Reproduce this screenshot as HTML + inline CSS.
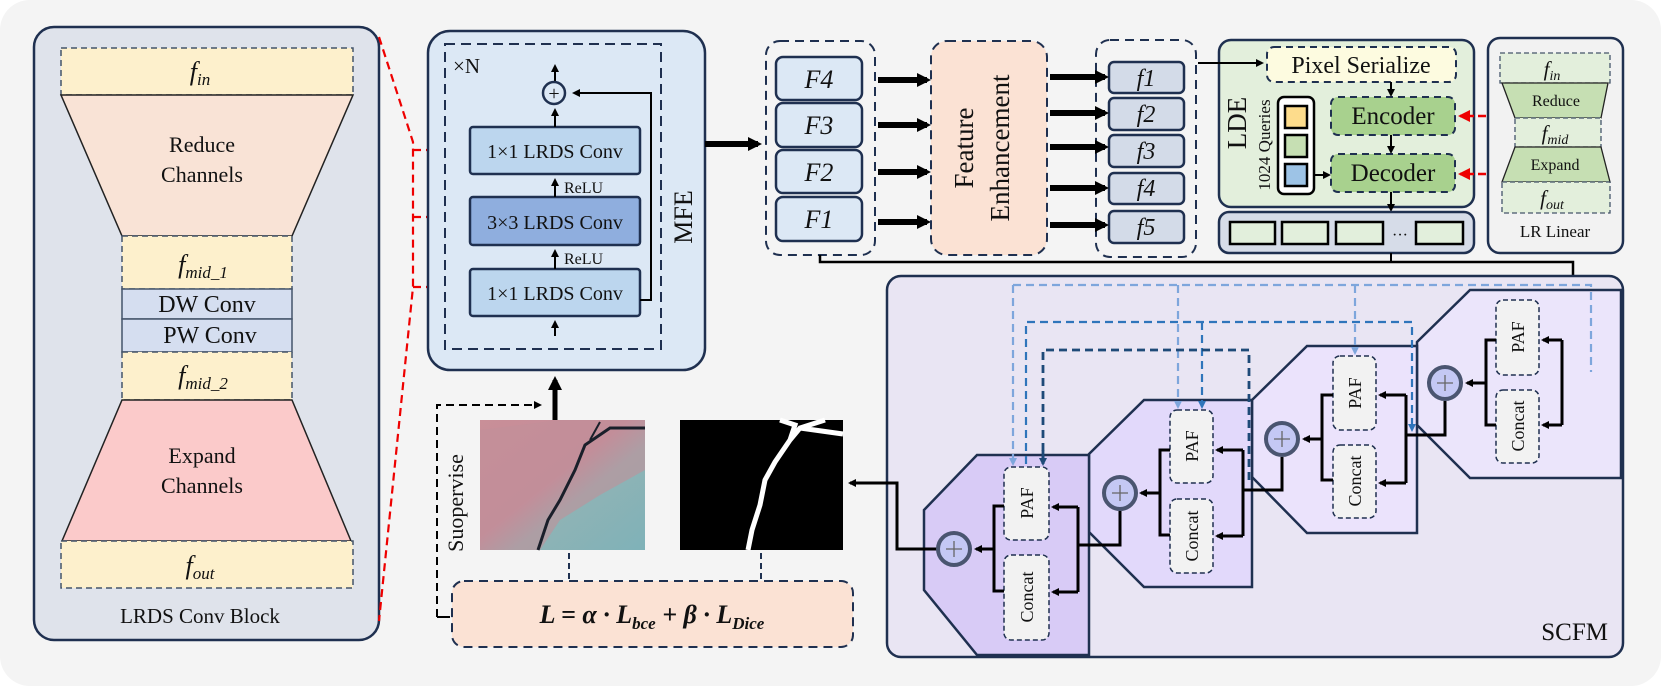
<!DOCTYPE html>
<html><head><meta charset="utf-8"><style>
html,body{margin:0;padding:0;background:#fff}
svg{display:block}
text{font-family:"Liberation Serif",serif;fill:#111}
</style></head><body>
<svg width="1661" height="686" viewBox="0 0 1661 686" xmlns="http://www.w3.org/2000/svg">
<defs>
<marker id="ah" markerWidth="8" markerHeight="8" refX="6" refY="4" orient="auto" markerUnits="userSpaceOnUse"><path d="M0,0 L8,4 L0,8 z" fill="#000"/></marker>
<marker id="ahb" markerWidth="14" markerHeight="14" refX="10" refY="7" orient="auto" markerUnits="userSpaceOnUse"><path d="M0,0 L14,7 L0,14 z" fill="#000"/></marker>
<marker id="ahr" markerWidth="12" markerHeight="12" refX="10" refY="6" orient="auto" markerUnits="userSpaceOnUse"><path d="M0,0 L12,6 L0,12 z" fill="#e00"/></marker>
<marker id="ahl" markerWidth="8" markerHeight="8" refX="6" refY="4" orient="auto" markerUnits="userSpaceOnUse"><path d="M0,0 L8,4 L0,8 z" fill="#7ea6dc"/></marker>
<marker id="ahm" markerWidth="8" markerHeight="8" refX="6" refY="4" orient="auto" markerUnits="userSpaceOnUse"><path d="M0,0 L8,4 L0,8 z" fill="#2f75bb"/></marker>
<marker id="ahd" markerWidth="8" markerHeight="8" refX="6" refY="4" orient="auto" markerUnits="userSpaceOnUse"><path d="M0,0 L8,4 L0,8 z" fill="#1e4a78"/></marker>
</defs>
<rect x="0" y="0" width="1661" height="686" rx="30" fill="#f4f4f4"/>

<!-- LRDS Conv Block -->
<rect x="34" y="27" width="345" height="613" rx="20" fill="#dfe3eb" stroke="#1f3050" stroke-width="2.5"/>
<rect x="61" y="48" width="292" height="47" fill="#fdf0cc" stroke="#44546a" stroke-width="1.5" stroke-dasharray="6,4"/>
<text x="200" y="80" font-size="26" font-style="italic" text-anchor="middle">f<tspan font-size="17" dy="5">in</tspan></text>
<polygon points="61,95 353,95 292,236 122,236" fill="#f9e3d6" stroke="#222" stroke-width="1.5"/>
<text x="202" y="152" font-size="22" text-anchor="middle">Reduce</text>
<text x="202" y="182" font-size="22" text-anchor="middle">Channels</text>
<rect x="122" y="236" width="170" height="53" fill="#fdf0cc" stroke="#44546a" stroke-width="1.5" stroke-dasharray="6,4"/>
<text x="203" y="273" font-size="26" font-style="italic" text-anchor="middle">f<tspan font-size="17" dy="5">mid_1</tspan></text>
<rect x="122" y="289" width="170" height="30" fill="#d5def0" stroke="#44546a" stroke-width="1.5"/>
<text x="207" y="312" font-size="24" text-anchor="middle">DW Conv</text>
<rect x="122" y="319" width="170" height="33" fill="#d5def0" stroke="#44546a" stroke-width="1.5"/>
<text x="210" y="343" font-size="24" text-anchor="middle">PW Conv</text>
<rect x="122" y="352" width="170" height="48" fill="#fdf0cc" stroke="#44546a" stroke-width="1.5" stroke-dasharray="6,4"/>
<text x="203" y="384" font-size="26" font-style="italic" text-anchor="middle">f<tspan font-size="17" dy="5">mid_2</tspan></text>
<polygon points="122,400 292,400 351,541 62,541" fill="#fbcaca" stroke="#222" stroke-width="1.5"/>
<text x="202" y="463" font-size="22" text-anchor="middle">Expand</text>
<text x="202" y="493" font-size="22" text-anchor="middle">Channels</text>
<rect x="61" y="541" width="292" height="47" fill="#fdf0cc" stroke="#44546a" stroke-width="1.5" stroke-dasharray="6,4"/>
<text x="200" y="574" font-size="26" font-style="italic" text-anchor="middle">f<tspan font-size="17" dy="5">out</tspan></text>
<text x="200" y="623" font-size="21" text-anchor="middle">LRDS Conv Block</text>

<!-- red dashed -->
<g stroke="#e00" stroke-width="2.2" stroke-dasharray="8,5" fill="none">
<path d="M379,37 L413,142 L413,287 L379,621"/>
<path d="M413,150 L468,150 M413,217 L468,217 M413,287 L468,287"/>
</g>

<!-- MFE -->
<rect x="428" y="31" width="277" height="339" rx="22" fill="#dce8f5" stroke="#1f3050" stroke-width="2.5"/>
<rect x="445" y="44" width="216" height="305" fill="none" stroke="#1f3050" stroke-width="2" stroke-dasharray="10,6"/>
<text x="453" y="73" font-size="21">×N</text>
<rect x="470" y="127" width="170" height="47" rx="3" fill="#bcd6ee" stroke="#1f3050" stroke-width="2.5"/>
<text x="555" y="158" font-size="20" text-anchor="middle">1×1 LRDS Conv</text>
<rect x="470" y="197" width="170" height="48" rx="3" fill="#8faede" stroke="#1f3050" stroke-width="2.5"/>
<text x="555" y="229" font-size="20" text-anchor="middle">3×3 LRDS Conv</text>
<rect x="470" y="269" width="170" height="47" rx="3" fill="#bcd6ee" stroke="#1f3050" stroke-width="2.5"/>
<text x="555" y="300" font-size="20" text-anchor="middle">1×1 LRDS Conv</text>
<g stroke="#000" stroke-width="2" fill="none">
<line x1="555" y1="197" x2="555" y2="180" marker-end="url(#ah)"/>
<line x1="555" y1="269" x2="555" y2="251" marker-end="url(#ah)"/>
<line x1="555" y1="336" x2="555" y2="322" marker-end="url(#ah)"/>
<line x1="555" y1="127" x2="555" y2="110" marker-end="url(#ah)"/>
<line x1="555" y1="81" x2="555" y2="66" marker-end="url(#ah)"/>
<path d="M640,300 L651,300 L651,93 L574,93" marker-end="url(#ah)"/>
</g>
<circle cx="554" cy="93" r="11" fill="#dce8f5" stroke="#1f3050" stroke-width="2.5"/>
<text x="554" y="100" font-size="20" text-anchor="middle">+</text>
<text x="564" y="193" font-size="16">ReLU</text>
<text x="564" y="264" font-size="16">ReLU</text>
<text x="0" y="0" font-size="26" transform="translate(692,217) rotate(-90)" text-anchor="middle">MFE</text>

<line x1="705" y1="144" x2="758" y2="144" stroke="#000" stroke-width="6" marker-end="url(#ahb)"/>

<!-- F group -->
<rect x="766" y="41" width="109" height="214" rx="14" fill="none" stroke="#1f3050" stroke-width="2" stroke-dasharray="9,6"/>
<g fill="#dce8f5" stroke="#1f3050" stroke-width="2.5">
<rect x="776" y="57" width="86" height="43" rx="7"/>
<rect x="776" y="103" width="86" height="44" rx="7"/>
<rect x="776" y="150" width="86" height="43" rx="7"/>
<rect x="776" y="197" width="86" height="44" rx="7"/>
</g>
<g font-size="26" font-style="italic" text-anchor="middle">
<text x="819" y="88">F4</text><text x="819" y="134">F3</text><text x="819" y="181">F2</text><text x="819" y="228">F1</text>
</g>
<g stroke="#000" stroke-width="6">
<line x1="878" y1="80" x2="927" y2="80" marker-end="url(#ahb)"/>
<line x1="878" y1="125" x2="927" y2="125" marker-end="url(#ahb)"/>
<line x1="878" y1="172" x2="927" y2="172" marker-end="url(#ahb)"/>
<line x1="878" y1="222" x2="927" y2="222" marker-end="url(#ahb)"/>
</g>
<rect x="931" y="41" width="116" height="214" rx="16" fill="#fbe2d4" stroke="#1f3050" stroke-width="2" stroke-dasharray="9,6"/>
<text font-size="27" text-anchor="middle" transform="translate(985,148) rotate(-90)"><tspan x="0" y="-12">Feature</tspan><tspan x="0" y="24">Enhancement</tspan></text>

<!-- f group -->
<rect x="1096" y="40" width="100" height="217" rx="14" fill="none" stroke="#1f3050" stroke-width="2" stroke-dasharray="9,6"/>
<g fill="#d3dbe8" stroke="#1f3050" stroke-width="2.5">
<rect x="1109" y="62" width="75" height="31" rx="5"/>
<rect x="1109" y="98" width="75" height="32" rx="5"/>
<rect x="1109" y="135" width="75" height="32" rx="5"/>
<rect x="1109" y="173" width="75" height="31" rx="5"/>
<rect x="1109" y="211" width="75" height="32" rx="5"/>
</g>
<g font-size="24" font-style="italic" text-anchor="middle">
<text x="1146" y="86">f1</text><text x="1146" y="122">f2</text><text x="1146" y="159">f3</text><text x="1146" y="196">f4</text><text x="1146" y="235">f5</text>
</g>
<g stroke="#000" stroke-width="6">
<line x1="1050" y1="77" x2="1105" y2="77" marker-end="url(#ahb)"/>
<line x1="1050" y1="113" x2="1105" y2="113" marker-end="url(#ahb)"/>
<line x1="1050" y1="147" x2="1105" y2="147" marker-end="url(#ahb)"/>
<line x1="1050" y1="188" x2="1105" y2="188" marker-end="url(#ahb)"/>
<line x1="1050" y1="225" x2="1105" y2="225" marker-end="url(#ahb)"/>
</g>

<!-- LDE -->
<rect x="1219" y="40" width="255" height="167" rx="12" fill="#e3efdc" stroke="#1f3050" stroke-width="2.5"/>
<path d="M1198,63 L1262,63" stroke="#000" stroke-width="2" marker-end="url(#ah)"/>
<rect x="1267" y="47" width="189" height="35" rx="7" fill="#fdfbe0" stroke="#1f3050" stroke-width="2" stroke-dasharray="7,5"/>
<text x="1361" y="73" font-size="24" text-anchor="middle">Pixel Serialize</text>
<rect x="1331" y="97" width="124" height="38" rx="7" fill="#a8d18e" stroke="#1f3050" stroke-width="2" stroke-dasharray="7,5"/>
<text x="1393" y="124" font-size="25" text-anchor="middle">Encoder</text>
<rect x="1331" y="154" width="124" height="38" rx="7" fill="#a8d18e" stroke="#1f3050" stroke-width="2" stroke-dasharray="7,5"/>
<text x="1393" y="181" font-size="25" text-anchor="middle">Decoder</text>
<g stroke="#000" stroke-width="2">
<line x1="1391" y1="82" x2="1391" y2="95" marker-end="url(#ah)"/>
<line x1="1391" y1="135" x2="1391" y2="152" marker-end="url(#ah)"/>
<line x1="1391" y1="192" x2="1391" y2="210" marker-end="url(#ah)"/>
<line x1="1314" y1="175" x2="1329" y2="175" marker-end="url(#ah)"/>
</g>
<rect x="1278" y="97" width="36" height="97" rx="6" fill="#fff" stroke="#000" stroke-width="2.5"/>
<rect x="1285" y="106" width="22" height="22" fill="#fddc8c" stroke="#000" stroke-width="2.5"/>
<rect x="1285" y="135" width="22" height="22" fill="#c6dfb3" stroke="#000" stroke-width="2.5"/>
<rect x="1285" y="164" width="22" height="22" fill="#9dc3e6" stroke="#000" stroke-width="2.5"/>
<text font-size="27" text-anchor="middle" transform="translate(1246,123) rotate(-90)">LDE</text>
<text font-size="17" text-anchor="middle" transform="translate(1270,145) rotate(-90)">1024 Queries</text>

<rect x="1219" y="212" width="255" height="41" rx="10" fill="#d6dce8" stroke="#1f3050" stroke-width="2.5"/>
<g fill="#e2efdc" stroke="#000" stroke-width="2.5">
<rect x="1230" y="222" width="45" height="22"/><rect x="1282" y="222" width="46" height="22"/><rect x="1336" y="222" width="47" height="22"/><rect x="1416" y="222" width="47" height="22"/>
</g>
<text x="1400" y="240" font-size="16" text-anchor="middle">···</text>

<!-- LR Linear -->
<rect x="1488" y="38" width="135" height="215" rx="12" fill="#f2f2f2" stroke="#1f3050" stroke-width="2.5"/>
<rect x="1500" y="53" width="110" height="30" fill="#e3efdc" stroke="#44546a" stroke-width="1.3" stroke-dasharray="5,3"/>
<text x="1552" y="76" font-size="21" font-style="italic" text-anchor="middle">f<tspan font-size="14" dy="4">in</tspan></text>
<polygon points="1502,83 1608,83 1601,118 1515,118" fill="#c6dfb3" stroke="#222" stroke-width="1.3"/>
<text x="1556" y="106" font-size="16" text-anchor="middle">Reduce</text>
<rect x="1515" y="118" width="86" height="29" fill="#e3efdc" stroke="#44546a" stroke-width="1.3" stroke-dasharray="5,3"/>
<text x="1555" y="140" font-size="21" font-style="italic" text-anchor="middle">f<tspan font-size="14" dy="4">mid</tspan></text>
<polygon points="1515,147 1601,147 1610,182 1502,182" fill="#c6dfb3" stroke="#222" stroke-width="1.3"/>
<text x="1555" y="170" font-size="16" text-anchor="middle">Expand</text>
<rect x="1502" y="182" width="108" height="31" fill="#e3efdc" stroke="#44546a" stroke-width="1.3" stroke-dasharray="5,3"/>
<text x="1552" y="205" font-size="21" font-style="italic" text-anchor="middle">f<tspan font-size="14" dy="4">out</tspan></text>
<text x="1555" y="237" font-size="17" text-anchor="middle">LR Linear</text>
<g stroke="#e00" stroke-width="2.5">
<line x1="1486" y1="116" x2="1460" y2="116" stroke-dasharray="8,4" marker-end="url(#ahr)"/>
<line x1="1486" y1="174" x2="1460" y2="174" stroke-dasharray="8,4" marker-end="url(#ahr)"/>
</g>

<!-- connecting line -->
<path d="M820,255 L820,262 L1573,262 L1573,382 L1562,382" stroke="#000" stroke-width="2.5" fill="none"/>
<line x1="1391" y1="253" x2="1391" y2="262" stroke="#000" stroke-width="2"/>

<!-- SCFM panel -->
<rect x="887" y="276" width="736" height="381" rx="14" fill="#e9e5f3" stroke="#1f3050" stroke-width="2.5"/>
<text x="1608" y="640" font-size="25" text-anchor="end">SCFM</text>

<!-- units -->
<polygon points="1470,290 1621,290 1621,478 1470,478 1417,425 1417,342" fill="#ebe5fb" stroke="#1f3050" stroke-width="2.5"/>
<polygon points="1307,346 1417,346 1417,533 1307,533 1252,477 1252,400" fill="#ebe3fc" stroke="#1f3050" stroke-width="2.5"/>
<polygon points="1144,400 1252,400 1252,587 1144,587 1089,532 1089,454" fill="#e2d9fb" stroke="#1f3050" stroke-width="2.5"/>
<polygon points="977,455 1089,455 1089,655 977,655 924,590 924,510" fill="#d8cbf6" stroke="#1f3050" stroke-width="2.5"/>

<!-- dashed feedback lines -->
<g fill="none" stroke-width="2.2" stroke-dasharray="8,5">
<path d="M1013,285 L1591,285 L1591,372" stroke="#7ea6dc"/>
<line x1="1013" y1="285" x2="1013" y2="464" stroke="#7ea6dc" marker-end="url(#ahl)"/>
<line x1="1178" y1="285" x2="1178" y2="407" stroke="#7ea6dc" marker-end="url(#ahl)"/>
<line x1="1355" y1="285" x2="1355" y2="353" stroke="#7ea6dc" marker-end="url(#ahl)"/>
<path d="M1026,464 L1026,322 L1412,322 L1412,430" stroke="#2f75bb" marker-end="url(#ahm)"/>
<line x1="1202" y1="322" x2="1202" y2="407" stroke="#2f75bb" marker-end="url(#ahm)"/>
<path d="M1043,464 L1043,350 L1249,350 L1249,480" stroke="#1e4a78" stroke-width="2.8"/>
<line x1="1043" y1="450" x2="1043" y2="464" stroke="#1e4a78" stroke-width="2.8" marker-end="url(#ahd)"/>
</g>

<!-- unit internals -->
<g fill="#f2f2f2" stroke="#1f3050" stroke-width="1.5" stroke-dasharray="5,3">
<rect x="1004" y="467" width="45" height="73" rx="7"/><rect x="1004" y="555" width="45" height="85" rx="7"/>
<rect x="1170" y="410" width="43" height="73" rx="7"/><rect x="1170" y="499" width="43" height="74" rx="7"/>
<rect x="1333" y="356" width="43" height="74" rx="7"/><rect x="1333" y="445" width="43" height="73" rx="7"/>
<rect x="1496" y="300" width="43" height="75" rx="7"/><rect x="1496" y="390" width="43" height="73" rx="7"/>
</g>
<g font-size="18" text-anchor="middle">
<text transform="translate(1033,503) rotate(-90)">PAF</text><text transform="translate(1033,597) rotate(-90)">Concat</text>
<text transform="translate(1198,446) rotate(-90)">PAF</text><text transform="translate(1198,536) rotate(-90)">Concat</text>
<text transform="translate(1361,393) rotate(-90)">PAF</text><text transform="translate(1361,481) rotate(-90)">Concat</text>
<text transform="translate(1524,337) rotate(-90)">PAF</text><text transform="translate(1524,426) rotate(-90)">Concat</text>
</g>
<g stroke="#000" stroke-width="3" fill="none">
<!-- unit1 -->
<path d="M1004,506 L994,506 L994,591 L1004,591"/>
<line x1="994" y1="549" x2="976" y2="549" marker-end="url(#ah)"/>
<path d="M1120,511 L1120,545 L1078,545"/>
<path d="M1078,507 L1078,592"/>
<line x1="1078" y1="507" x2="1053" y2="507" marker-end="url(#ah)"/>
<line x1="1078" y1="592" x2="1053" y2="592" marker-end="url(#ah)"/>
<path d="M937,549 L897,549 L897,483 L850,483" marker-end="url(#ah)"/>
<!-- unit2 -->
<path d="M1170,450 L1160,450 L1160,535 L1170,535"/>
<line x1="1160" y1="493" x2="1141" y2="493" marker-end="url(#ah)"/>
<path d="M1282,457 L1282,490 L1243,490"/>
<path d="M1243,450 L1243,536"/>
<line x1="1243" y1="450" x2="1217" y2="450" marker-end="url(#ah)"/>
<line x1="1243" y1="536" x2="1217" y2="536" marker-end="url(#ah)"/>
<!-- unit3 -->
<path d="M1333,395 L1322,395 L1322,480 L1333,480"/>
<line x1="1322" y1="439" x2="1304" y2="439" marker-end="url(#ah)"/>
<path d="M1445,401 L1445,435 L1406,435"/>
<path d="M1406,395 L1406,483"/>
<line x1="1406" y1="395" x2="1380" y2="395" marker-end="url(#ah)"/>
<line x1="1406" y1="483" x2="1380" y2="483" marker-end="url(#ah)"/>
<!-- unit4 -->
<path d="M1496,340 L1486,340 L1486,425 L1496,425"/>
<line x1="1486" y1="383" x2="1467" y2="383" marker-end="url(#ah)"/>
<path d="M1562,340 L1562,425"/>
<line x1="1562" y1="340" x2="1543" y2="340" marker-end="url(#ah)"/>
<line x1="1562" y1="425" x2="1543" y2="425" marker-end="url(#ah)"/>
</g>
<g fill="#c4c8f4" stroke="#4a5570" stroke-width="4">
<circle cx="954" cy="549" r="16"/><circle cx="1120" cy="493" r="16"/><circle cx="1282" cy="439" r="16"/><circle cx="1445" cy="383" r="16"/>
</g>
<g stroke="#666" stroke-width="1.3">
<path d="M946,549 h16 M954,541 v16"/><path d="M1112,493 h16 M1120,485 v16"/><path d="M1274,439 h16 M1282,431 v16"/><path d="M1437,383 h16 M1445,375 v16"/>
</g>

<!-- images -->
<defs>
<linearGradient id="g1" x1="0" y1="0" x2="1" y2="1">
<stop offset="0" stop-color="#c98f98"/><stop offset="0.45" stop-color="#c48c9a"/><stop offset="0.6" stop-color="#8fb3b5"/><stop offset="1" stop-color="#7fb2b8"/>
</linearGradient>
</defs>
<rect x="480" y="420" width="165" height="130" fill="url(#g1)"/>
<path d="M480,430 L560,420 L645,420 L645,470 L600,495 L560,520 L540,550 L480,550 z" fill="#c2909a" opacity="0.6"/>
<path d="M538,550 L548,520 L560,500 L575,470 L585,445 L610,428 L645,428" stroke="#1a1f2a" stroke-width="3" fill="none"/>
<path d="M590,440 L600,422" stroke="#1a1f2a" stroke-width="2" fill="none"/>
<rect x="680" y="420" width="163" height="130" fill="#000"/>
<path d="M748,550 L752,530 L760,505 L765,480 L775,462 L790,440 L800,428 L825,420 M790,440 L795,425 L780,420 M800,428 L843,434" stroke="#fff" stroke-width="5" fill="none"/>

<!-- supervise -->
<line x1="555" y1="420" x2="555" y2="380" stroke="#000" stroke-width="5" marker-end="url(#ahb)"/>
<path d="M437,617 L437,405 L540,405" stroke="#000" stroke-width="2" stroke-dasharray="8,5" fill="none" marker-end="url(#ah)"/>
<line x1="437" y1="617" x2="450" y2="617" stroke="#000" stroke-width="2"/>
<text font-size="22" text-anchor="middle" transform="translate(463,503) rotate(-90)">Suopervise</text>
<line x1="569" y1="553" x2="569" y2="581" stroke="#1f3050" stroke-width="2" stroke-dasharray="6,4"/>
<line x1="761" y1="553" x2="761" y2="581" stroke="#1f3050" stroke-width="2" stroke-dasharray="6,4"/>
<rect x="452" y="581" width="401" height="66" rx="12" fill="#fbe2d4" stroke="#1f3050" stroke-width="2" stroke-dasharray="9,6"/>
<text x="652" y="623" font-size="26" font-weight="bold" font-style="italic" text-anchor="middle">L = α · L<tspan font-size="17" dy="6">bce</tspan><tspan dy="-6"> + β · L</tspan><tspan font-size="17" dy="6">Dice</tspan></text>
</svg>
</body></html>
